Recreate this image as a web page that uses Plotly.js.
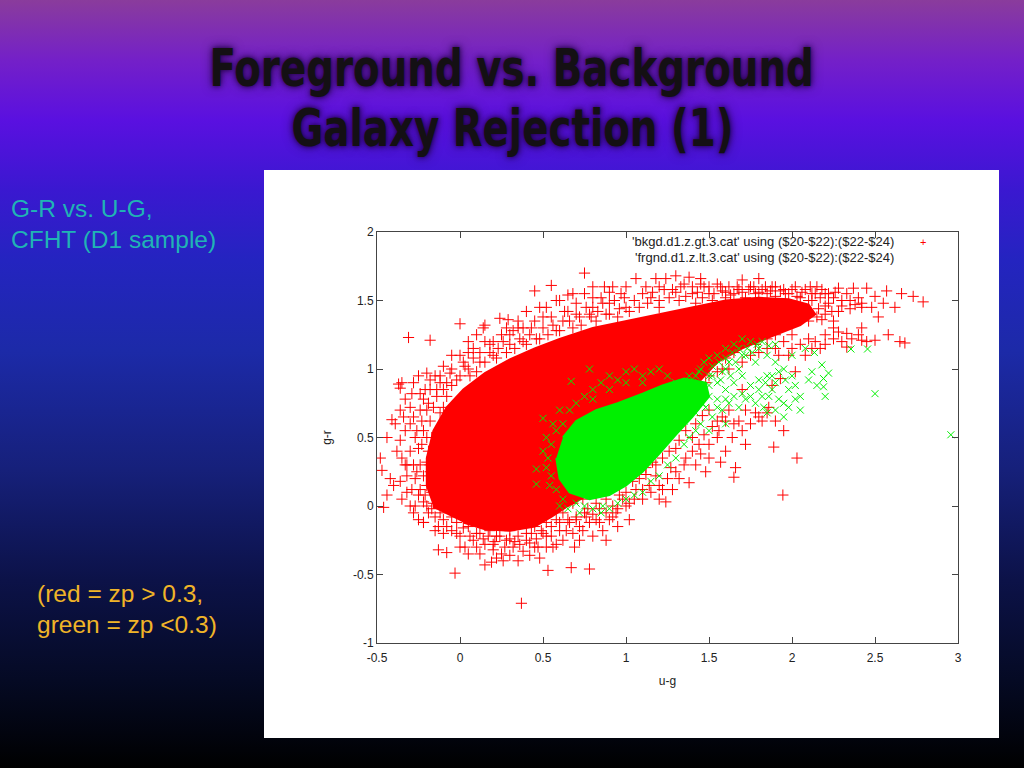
<!DOCTYPE html>
<html>
<head>
<meta charset="utf-8">
<script src="https://cdn.plot.ly/plotly-3.0.1.min.js"></script>
<style>
  html, body { margin: 0; padding: 0; }
  body {
    width: 1024px; height: 768px; overflow: hidden; position: relative;
    background: linear-gradient(to bottom, #8a3c9c 0px, #7420c8 60px, #5a10e0 120px, #3a18d0 190px, #2424c0 260px, #1c2aa8 350px, #16207a 470px, #0c1248 580px, #050a24 680px, #000000 768px);
    font-family: "Liberation Sans", Arial, sans-serif;
  }
  #title {
    position: absolute; left: 0; top: 39px; width: 1024px; text-align: center;
    font-family: "DejaVu Sans Condensed", "DejaVu Sans", sans-serif;
    font-stretch: condensed; font-weight: bold; font-size: 51px; line-height: 60px;
    color: #141014; text-shadow: 0 0 6px rgba(30,0,60,0.95), 0 0 12px rgba(30,0,60,0.7);
  }
  #title span { display: inline-block; transform: scaleX(0.845); transform-origin: center; white-space: nowrap; }
  .side { position: absolute; font-size: 24.5px; line-height: 31px; white-space: nowrap; }
  #note1 { left: 11px; top: 193px; color: #20b4b4; }
  #note2 { left: 37px; top: 578px; color: #f0b428; }
  #plot { position: absolute; left: 264px; top: 170px; width: 735px; height: 568px; }
</style>
</head>
<body>
<div id="title"><span>Foreground vs. Background</span><br><span>Galaxy Rejection (1)</span></div>
<div id="note1" class="side">G-R vs. U-G,<br>CFHT (D1 sample)</div>
<div id="note2" class="side">(red = zp &gt; 0.3,<br>green = zp &lt;0.3)</div>
<div id="plot"></div>
<script>
// ---- Data (u-g, g-r) ----
// Outline of the saturated background (red) region
const redCore = [[-0.15,-0.02],[-0.2,0.15],[-0.2,0.35],[-0.16,0.55],[-0.08,0.72],[0.02,0.85],[0.15,0.97],[0.3,1.07],[0.45,1.15],[0.6,1.22],[0.8,1.3],[1.0,1.35],[1.2,1.4],[1.4,1.45],[1.6,1.5],[1.8,1.52],[1.98,1.51],[2.1,1.47],[2.14,1.4],[2.05,1.32],[1.9,1.25],[1.7,1.15],[1.55,1.05],[1.45,0.92],[1.35,0.9],[1.2,0.8],[1.1,0.5],[0.95,0.25],[0.8,0.1],[0.65,0.0],[0.55,-0.08],[0.45,-0.15],[0.3,-0.18],[0.15,-0.17],[0.02,-0.12]];

// Individual background (red) points
const redU = [
 -0.47,-0.46,-0.42,-0.44,-0.41,-0.37,-0.35,-0.36,-0.33,-0.30,-0.38,-0.35,-0.33,-0.40,-0.36,-0.32,-0.30,-0.28,-0.27,-0.25,-0.24,-0.26,-0.29,-0.25,-0.22,-0.20,-0.22,-0.20,-0.22,-0.18,-0.25,-0.15,-0.20,-0.18,-0.12,-0.10,-0.14,-0.16,-0.18,-0.17,-0.19,-0.20,-0.18,-0.17,-0.16,-0.19,-0.22,-0.15,-0.13,-0.12,-0.10,-0.08,-0.05,-0.02,-0.06,-0.10,-0.31,-0.18,-0.44,-0.48,
 0.0,0.15,0.14,0.24,0.29,0.0,0.02,0.05,0.08,0.10,0.12,0.18,0.20,0.25,0.22,0.30,0.32,0.35,0.38,0.40,0.42,0.45,0.45,0.48,0.50,0.52,0.55,0.55,0.58,0.60,0.62,0.65,0.65,0.68,0.70,0.72,0.75,0.75,0.78,0.80,0.80,0.82,0.85,0.87,0.88,0.90,0.92,0.95,0.97,1.0,0.10,0.05,
 1.06,1.12,1.15,1.18,1.20,1.24,1.28,1.30,1.32,1.35,1.38,1.40,1.42,1.45,1.47,1.50,1.52,1.55,1.58,1.60,1.62,1.65,1.68,1.70,1.72,1.75,1.78,1.80,1.82,1.85,1.88,1.90,1.93,1.96,2.0,2.03,2.06,2.10,2.12,2.15,2.17,2.20,2.22,2.25,2.28,2.30,2.33,2.37,2.40,2.42,2.45,2.42,2.50,2.57,2.66,2.73,2.79,2.35,2.28,2.20,2.15,
 2.50,2.42,2.33,2.20,2.17,2.65,2.68,2.42,2.33,2.25,2.10,2.05,2.0,1.95,1.90,1.85,1.80,1.78,1.90,1.98,2.08,2.12,2.25,2.30,1.60,1.65,1.50,1.45,1.40,1.50,1.58,1.30,1.35,2.02,1.93,1.88,1.70,
 1.945,2.03,1.89,1.65,1.57,1.38,1.24,0.86,0.69,0.53,0.67,0.78,1.60,1.55,1.50,1.45,1.42,1.48,1.35,1.30,1.25,1.20,1.15,1.10,1.05,1.0,0.95,0.92,0.88,0.82,0.78,0.75,0.72,0.68,0.65,0.62,0.60,0.58,0.55,0.52,1.70,1.75,1.80,1.85,1.65,1.60,1.72,1.55,1.12,1.18,1.30,1.02,0.95,1.40,1.62,1.66,
 -0.03,0.37,0.15,0.19,-0.13,-0.08,-0.22,-0.05,0.0,0.05,0.08,0.10,0.12,0.15,0.18,0.20,0.22,0.25,0.28,0.30,0.32,0.35,0.38,0.40,0.42,0.45,0.47,0.50,0.52,-0.10,-0.02,0.03,0.26,0.35,0.48
];
const redG = [
 0.26,-0.01,0.20,0.50,0.63,0.89,0.90,0.86,0.78,0.72,0.40,0.35,0.30,0.15,0.18,0.22,0.60,0.65,0.50,0.42,0.30,0.25,0.12,0.08,0.03,0.15,0.55,0.70,0.78,0.85,0.95,0.95,0.97,0.92,0.90,0.85,0.80,0.72,0.62,0.50,0.40,0.32,0.25,0.10,0.02,-0.05,-0.12,-0.08,-0.15,0.68,0.72,0.80,0.88,0.92,0.97,1.02,1.23,1.21,0.08,0.35,
 1.33,1.32,1.30,1.37,1.36,1.10,1.05,1.0,1.15,0.98,1.05,1.12,1.20,1.25,1.08,1.18,1.28,1.30,1.20,1.42,1.25,1.35,1.57,1.22,1.30,1.45,1.61,1.38,1.28,1.50,1.35,1.54,1.42,1.30,1.48,1.38,1.70,1.55,1.40,1.60,1.45,1.35,1.52,1.60,1.40,1.48,1.60,1.38,1.55,1.45,1.25,1.20,
 1.66,1.60,1.52,1.66,1.45,1.66,1.58,1.68,1.50,1.62,1.67,1.55,1.48,1.66,1.60,1.55,1.50,1.62,1.57,1.52,1.60,1.55,1.58,1.65,1.52,1.60,1.55,1.66,1.58,1.55,1.60,1.53,1.57,1.55,1.58,1.53,1.56,1.50,1.55,1.60,1.52,1.55,1.48,1.52,1.59,1.50,1.55,1.59,1.52,1.48,1.59,1.45,1.53,1.57,1.55,1.53,1.49,1.44,1.42,1.40,1.38,
 1.21,1.21,1.16,1.18,1.15,1.20,1.19,1.30,1.26,1.30,1.22,1.18,1.25,1.20,1.15,1.22,1.12,1.18,1.25,1.10,1.10,1.15,1.22,1.20,1.08,1.12,1.05,1.0,0.95,0.95,1.0,0.95,1.0,0.98,0.93,0.88,0.85,
 0.08,0.35,0.43,0.21,0.32,0.17,0.03,-0.18,-0.30,-0.47,-0.45,-0.46,0.40,0.50,0.45,0.38,0.30,0.25,0.30,0.25,0.20,0.15,0.10,0.12,0.05,0.0,-0.02,-0.08,-0.05,-0.10,-0.12,-0.05,-0.15,-0.20,-0.10,-0.25,-0.18,-0.28,-0.22,-0.30,0.55,0.60,0.65,0.68,0.60,0.62,0.45,0.62,0.23,0.30,0.42,-0.10,-0.15,0.50,0.70,0.28,
 -0.49,-0.71,-0.43,-0.41,-0.32,-0.34,-0.12,-0.18,-0.22,-0.15,-0.25,-0.30,-0.20,-0.28,-0.18,-0.32,-0.22,-0.35,-0.25,-0.18,-0.30,-0.22,-0.33,-0.20,-0.27,-0.15,-0.30,-0.20,-0.12,-0.10,-0.12,-0.30,-0.40,-0.40,-0.38
];
// More background (red) points, as [u-g, g-r] pairs
const redMore = [
 [-0.12,0.95],[-0.08,0.9],[-0.05,1.0],[0.0,0.95],[0.03,1.02],[0.06,0.95],[0.08,1.08],[0.12,1.12],[0.15,1.05],[0.18,1.18],[0.2,1.1],[0.23,1.15],[0.26,1.2],[0.28,1.12],[0.3,1.25],[0.33,1.15],[0.36,1.22],[0.38,1.3],[0.4,1.18],[0.43,1.3],[0.46,1.22],[0.5,1.38],[0.53,1.25],[0.56,1.32],[0.6,1.28],[0.63,1.42],[0.66,1.35],[0.7,1.4],[0.73,1.32],[0.76,1.45],[0.79,1.38],[0.83,1.42],[0.86,1.48],[0.9,1.4],[0.93,1.5],[0.96,1.44],[0.99,1.52],[1.02,1.42],[1.05,1.5],[1.08,1.45],[1.1,1.55],[1.13,1.48],[1.16,1.56],[1.2,1.5],[1.23,1.58],[1.26,1.52],[1.3,1.56],[1.33,1.6],[1.36,1.53],[1.4,1.6],[1.43,1.56],[1.46,1.52],[1.5,1.6],[1.53,1.55],[1.57,1.6],[1.6,1.56],[1.63,1.54],[1.67,1.6],[1.7,1.56],[1.74,1.58],[1.77,1.6],[1.8,1.56],[1.84,1.6],[1.87,1.57],[1.9,1.6],[1.95,1.58],[1.98,1.55],[2.02,1.6],[2.05,1.52],[2.08,1.58],[2.11,1.6],[2.14,1.55],[2.18,1.58],[2.22,1.55],[2.26,1.56],[2.3,1.46],[2.35,1.5],[2.38,1.47],
 [-0.3,0.4],[-0.28,0.3],[-0.27,0.2],[-0.26,0.55],[-0.24,0.7],[-0.24,0.12],[-0.23,0.45],[-0.23,0.62],[-0.22,0.22],[-0.21,0.08],[-0.21,0.85],[-0.2,0.5],[-0.2,0.0],[-0.19,0.75],[-0.18,0.3],[-0.17,-0.02],[-0.14,0.85],[-0.24,0.82],[-0.29,0.82],[-0.33,0.55],[-0.34,0.65],[-0.36,0.48],[-0.39,0.6],[-0.32,0.1],[-0.35,0.05],[-0.27,0.0],[-0.28,-0.05],
 [-0.12,-0.05],[-0.08,-0.15],[-0.05,-0.08],[-0.02,-0.2],[0.02,-0.16],[0.06,-0.22],[0.1,-0.2],[0.14,-0.24],[0.17,-0.22],[0.21,-0.26],[0.24,-0.22],[0.27,-0.3],[0.3,-0.24],[0.33,-0.26],[0.36,-0.28],[0.4,-0.25],[0.43,-0.2],[0.46,-0.24],[0.49,-0.18],[0.52,-0.22],[0.55,-0.15],[0.58,-0.1],[0.12,-0.35],[0.22,-0.38],[0.3,-0.36],[0.42,-0.36],[0.05,-0.35],[0.0,-0.3],
 [0.62,-0.05],[0.66,-0.12],[0.7,-0.08],[0.74,-0.18],[0.77,-0.02],[0.8,-0.06],[0.84,-0.12],[0.9,-0.1],[0.94,-0.05],[0.98,0.05],[1.02,0.02],[1.06,0.12],[1.1,0.05],[1.14,0.15],[1.18,0.22],[1.22,0.12],[1.27,0.28],[1.32,0.2],[1.36,0.35],[1.4,0.4],[1.44,0.45],[1.47,0.52],[1.52,0.58],[1.56,0.55],[1.58,0.65],[1.64,0.5],[1.68,0.62],[1.72,0.7],[1.78,0.68],[1.82,0.62],[1.86,0.72],[1.9,0.62],[1.95,0.55],[1.2,0.05],[1.28,0.12],[1.5,0.35],[0.88,-0.25],[0.8,-0.22],[0.72,-0.25],
 [2.2,1.25],[2.28,1.27],[2.36,1.22],[2.4,1.25],[2.45,1.2],[2.14,1.2],[2.0,1.15],[1.92,1.1],[1.85,1.15],[1.75,1.1],[1.7,1.05],[1.62,1.0],[1.55,0.98],[1.48,0.9],[1.42,0.85],[2.58,1.25],[2.55,1.48],[2.62,1.45],[2.48,1.45],[2.52,1.38],
 [0.6,0.05],[0.68,0.02],[0.74,0.05],[0.82,0.02],[0.88,0.05],[0.92,0.0],[0.96,0.08],[1.0,0.1],[1.04,0.18],[1.08,0.2],[1.12,0.28],[1.16,0.32],[1.22,0.35],[1.26,0.4],[1.32,0.48],[1.36,0.55],[1.42,0.6],[1.46,0.66],[1.5,0.7],[0.7,-0.1],[0.76,-0.08],[0.84,-0.02],[0.6,-0.12],[0.64,-0.18],[0.56,-0.3],[0.45,-0.3],[0.2,-0.28],[-0.1,-0.2],[-0.15,-0.18],[-0.25,-0.1],[-0.3,0.0],[-0.32,0.3],[-0.36,0.7],[-0.28,0.9],[-0.05,1.1],[0.05,1.12],[0.15,1.2],[0.28,1.3],[0.35,1.35],[0.48,1.45],[0.58,1.5],[0.68,1.55],[0.8,1.52],[0.9,1.56],[1.0,1.6],[1.2,1.6],[1.45,1.62],
 [2.12,1.5],[2.16,1.44],[2.2,1.46],[2.24,1.42],[2.18,1.36],[2.1,1.35],[2.25,1.35]
];

// Outline of the saturated foreground (green) region
const greenCore = [[0.58,0.35],[0.6,0.2],[0.66,0.1],[0.78,0.05],[0.9,0.08],[1.0,0.15],[1.1,0.25],[1.2,0.38],[1.3,0.52],[1.4,0.65],[1.5,0.8],[1.48,0.9],[1.35,0.93],[1.22,0.88],[1.1,0.82],[0.95,0.75],[0.82,0.7],[0.7,0.62],[0.62,0.5]];

// Individual foreground (green) points
const greenU = [2.957,2.50,2.19,2.19,2.22,2.18,2.355,2.455,2.135,2.05,2.02,2.10,2.05,1.90,1.85,1.95,2.0,1.95,1.90,1.85,1.80,1.75,1.70,1.65,1.60,1.55,1.72,1.78,1.68,1.62,1.58,1.52,1.50,1.45,1.42,1.55,1.60,1.65,1.70,1.75,1.80,1.85,1.88,1.82,1.78,1.72,1.68,1.62,1.58,1.52,1.55,1.50,1.48,1.45,1.42,1.38,1.35,1.50,1.60,1.30,1.25,1.20,1.15,1.10,1.05,1.0,0.95,0.90,0.85,0.75,0.70,0.62,0.58,0.55,0.53,0.55,0.58,0.62,0.66,0.70,0.75,0.80,0.85,0.90,0.95,1.0,1.05,1.10,1.15,1.20,0.46,0.46,0.50,0.67,0.78,1.90,2.0,1.95,1.35,1.30,1.40,1.25,1.90,2.08,1.83];
const greenG = [0.52,0.82,0.87,0.93,0.97,1.03,1.146,1.146,1.12,0.80,0.88,0.92,0.70,0.70,0.68,0.75,0.95,1.0,1.05,1.10,1.15,1.20,1.22,1.18,1.15,1.10,1.10,1.05,1.0,1.05,0.98,1.02,0.95,1.0,0.95,0.90,0.85,0.90,0.95,0.88,0.92,0.95,0.85,0.80,0.75,0.78,0.72,0.75,0.70,0.65,0.78,0.80,0.72,0.60,0.55,0.50,0.45,0.55,0.60,0.35,0.30,0.22,0.18,0.10,0.08,0.05,0.02,-0.02,-0.05,0.0,0.02,0.05,0.12,0.22,0.35,0.45,0.55,0.60,0.70,0.75,0.80,0.85,0.90,0.95,0.92,0.98,1.0,0.95,0.98,1.0,0.27,0.16,0.64,0.91,1.0,1.18,1.10,0.65,0.85,0.80,0.90,0.95,0.90,1.15,0.72];
const greenMore = [
 [1.3,0.7],[1.35,0.75],[1.4,0.8],[1.45,0.85],[1.5,0.88],[1.52,0.95],[1.57,0.92],[1.6,1.0],[1.63,0.95],[1.66,1.05],[1.7,1.1],[1.73,1.15],[1.76,1.12],[1.79,1.18],[1.82,1.2],[1.86,1.17],[1.68,1.15],[1.64,1.12],[1.6,1.08],[1.56,1.05],[1.5,1.08],[1.47,1.05],[1.44,0.98],[1.38,0.95],[1.55,0.72],[1.6,0.78],[1.65,0.8],[1.7,0.82],[1.75,0.8],[1.8,0.85],[1.84,0.9],[1.88,0.95],[1.92,0.98],[1.96,0.92],[1.98,0.85],[2.02,0.78],[1.98,0.72],[1.92,0.78],[1.86,0.8],[2.12,0.98],[2.15,0.88],[2.2,0.8],
 [1.25,0.55],[1.3,0.6],[1.35,0.62],[1.42,0.68],[1.46,0.75],[1.2,0.45],[1.15,0.4],[1.18,0.55],[0.6,0.7],[0.56,0.6],[0.52,0.5],[0.5,0.4],[0.52,0.28],[0.54,0.15],[0.6,0.0],[0.65,-0.02],[0.72,-0.05],[0.8,-0.02],[0.86,0.0],[1.0,0.9],[0.9,0.85],[0.8,0.78],[1.1,0.9],[1.3,0.9]
];

const xTicks = [-0.5,0,0.5,1,1.5,2,2.5,3];
const yTicks = [-1,-0.5,0,0.5,1,1.5,2];
const legendLabels = ["'bkgd.d1.z.gt.3.cat' using ($20-$22):($22-$24)", "'frgnd.d1.z.lt.3.cat' using ($20-$22):($22-$24)"];

const RED = '#ff0000', GREEN = '#00f000';
const FONT = 'Liberation Sans, Arial, sans-serif';

const traces = [
  {x: redCore.map(p => p[0]), y: redCore.map(p => p[1]), type: 'scatter', mode: 'lines', fill: 'toself', fillcolor: RED,
   line: {color: RED, width: 2}, hoverinfo: 'skip', showlegend: false},
  {x: redU.concat(redMore.map(p => p[0])), y: redG.concat(redMore.map(p => p[1])), type: 'scatter', mode: 'markers', showlegend: false,
   marker: {symbol: 'cross-thin-open', size: 8, color: RED, line: {color: RED, width: 1}}},
  {x: greenCore.map(p => p[0]), y: greenCore.map(p => p[1]), type: 'scatter', mode: 'lines', fill: 'toself', fillcolor: GREEN,
   line: {color: GREEN, width: 2}, hoverinfo: 'skip', showlegend: false},
  {x: greenU.concat(greenMore.map(p => p[0])), y: greenG.concat(greenMore.map(p => p[1])), type: 'scatter', mode: 'markers', showlegend: false,
   marker: {symbol: 'x-thin-open', size: 7, color: GREEN, line: {color: GREEN, width: 1}}}
];

const axisCommon = {
  showgrid: false, zeroline: false, showline: true, mirror: 'ticks', linecolor: '#444', linewidth: 1,
  ticks: 'inside', ticklen: 6, tickcolor: '#444', tickwidth: 1,
  tickfont: {family: FONT, size: 12, color: '#222'}
};

const layout = {
  width: 735, height: 568,
  margin: {l: 113, r: 41, t: 62, b: 95},
  paper_bgcolor: '#ffffff', plot_bgcolor: '#ffffff',
  showlegend: false,
  xaxis: Object.assign({}, axisCommon, {
    range: [-0.5, 3], tickmode: 'array', tickvals: xTicks, ticktext: xTicks.map(String), ticklabelstandoff: 4,
    title: {text: 'u-g', font: {family: FONT, size: 12, color: '#222'}, standoff: 12}
  }),
  yaxis: Object.assign({}, axisCommon, {
    range: [-1, 2], tickmode: 'array', tickvals: yTicks, ticktext: yTicks.map(String),
    title: {text: 'g-r', font: {family: FONT, size: 12, color: '#222'}, standoff: 18}
  }),
  annotations: [
    {xref: 'paper', yref: 'paper', x: 0.893, y: 0.976, xanchor: 'right', yanchor: 'middle', showarrow: false,
     text: legendLabels[0], font: {family: FONT, size: 13, color: '#222'}},
    {xref: 'paper', yref: 'paper', x: 0.893, y: 0.939, xanchor: 'right', yanchor: 'middle', showarrow: false,
     text: legendLabels[1], font: {family: FONT, size: 13, color: '#222'}},
    {xref: 'paper', yref: 'paper', x: 0.94, y: 0.976, xanchor: 'center', yanchor: 'middle', showarrow: false,
     text: '+', font: {family: FONT, size: 11, color: RED}}
  ]
};

Plotly.newPlot('plot', traces, layout, {displayModeBar: false, staticPlot: true});
</script>
</body>
</html>
